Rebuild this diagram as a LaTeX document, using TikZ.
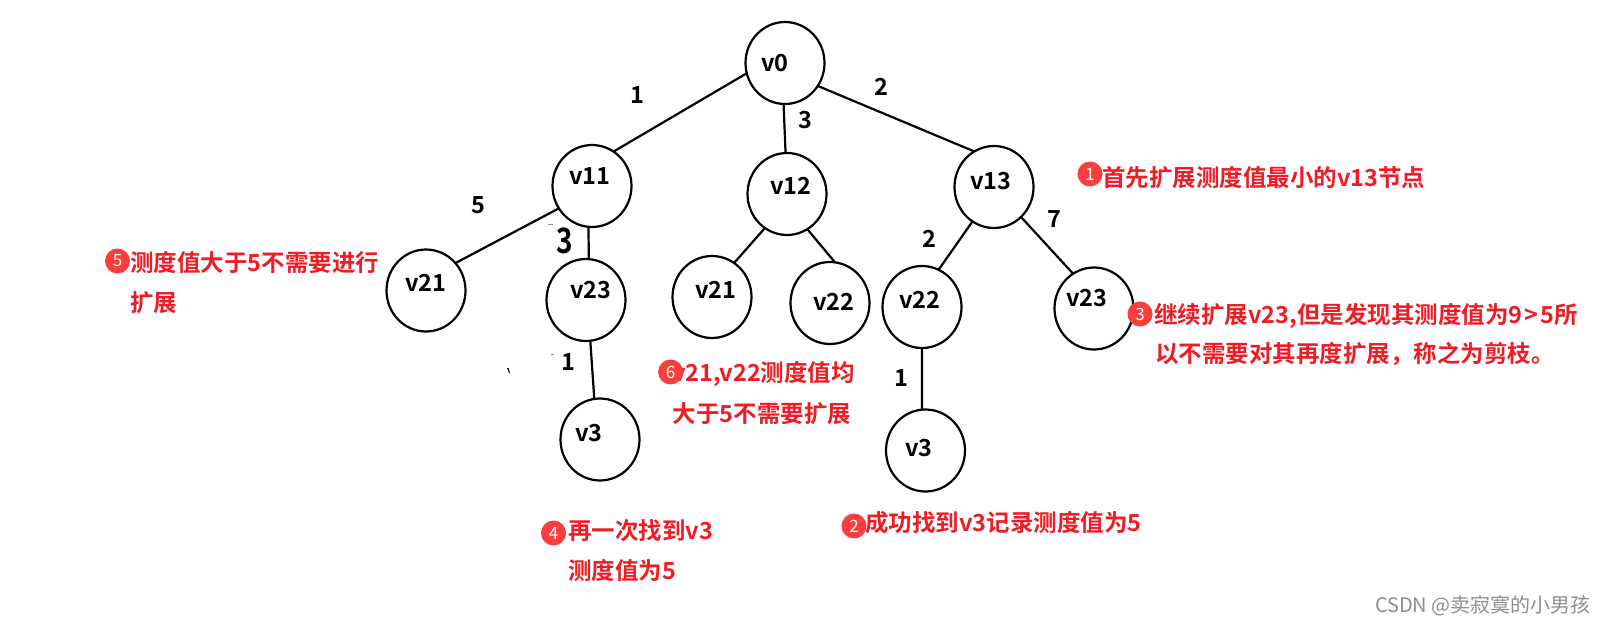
\documentclass[tikz,border=0pt]{standalone}
\usepackage{fontspec}
\setmainfont{Noto Sans CJK SC}[BoldFont={* Bold}]
\newfontfamily\cjkbold{Noto Sans CJK SC Bold}
\usetikzlibrary{shapes.geometric}
\definecolor{notered}{HTML}{EE1C25}
\definecolor{badgered}{HTML}{F93E3E}
\definecolor{markgray}{HTML}{8E8E8E}
\tikzset{
  vert/.style={draw=black,line width=2.2pt,ellipse,inner sep=0pt,outer sep=0pt,minimum width=79pt,minimum height=82pt},
  vname/.style={font=\cjkbold\fontsize{23.5}{23.5}\selectfont,text=black,inner sep=0pt},
  weight/.style={font=\cjkbold\fontsize{23.5}{23.5}\selectfont,text=black,inner sep=0pt},
  bigweight/.style={font=\cjkbold\fontsize{35}{35}\selectfont,text=black,inner sep=0pt,xscale=0.8},
  edge/.style={draw=black,line width=2.2pt},
  note/.style={font=\cjkbold\fontsize{23.5}{23.5}\selectfont,text=notered,inner sep=0pt,anchor=west,text height=20pt,text depth=4pt},
  badge/.style={circle,fill=badgered,inner sep=0pt,minimum size=25pt,text=white,font=\fontsize{17}{17}\selectfont},
  speck/.style={fill=#1,draw=none}
}
\begin{document}
\begin{tikzpicture}[x=1pt,y=-1pt]
\useasboundingbox[fill=white] (0,0) rectangle (1604,624);
% vertices
\node[vert] (n0)  at (785,63)    {};
\node[vert] (n11) at (592,186)   {};
\node[vert] (n12) at (787,194)   {};
\node[vert] (n13) at (994,187)   {};
\node[vert] (a21) at (426,290.5) {};
\node[vert] (a23) at (586,300)   {};
\node[vert] (a3)  at (600,439.5) {};
\node[vert] (b21) at (712,297)   {};
\node[vert] (b22) at (830,303)   {};
\node[vert] (c22) at (922,307)   {};
\node[vert] (c23) at (1094,308.5){};
\node[vert] (c3)  at (925.5,450.5){};
% connectors
\draw[edge] (n0.195) -- (n11.58);
\draw[edge] (n0.-92) -- (n12.92);
\draw[edge] (n0.-35) -- (n13.119);
\draw[edge] (n11.214) -- (a21.43);
\draw[edge] (n11.-95) -- (a23.86);
\draw[edge] (a23.-84) -- (a3.98);
\draw[edge] (n12.237) -- (b21.57);
\draw[edge] (n12.-60) -- (b22.83);
\draw[edge] (n13.238) -- (c22.66);
\draw[edge] (n13.-48) -- (c23.121);
\draw[edge] (c22.-90) -- (c3.95);
% vertex names
\node[vname] (tn0)  at (775,63)  {v0};
\node[vname] (tn11) at (590,176) {v11};
\node[vname] (tn12) at (791,186) {v12};
\node[vname] (tn13) at (991,181) {v13};
\node[vname] (ta21) at (426,283) {v21};
\node[vname] (ta23) at (591,290) {v23};
\node[vname] (ta3)  at (589,433) {v3};
\node[vname] (tb21) at (716,290) {v21};
\node[vname] (tb22) at (834,302) {v22};
\node[vname] (tc22) at (920,300) {v22};
\node[vname] (tc23) at (1087,298){v23};
\node[vname] (tc3)  at (919,448) {v3};
% weights
\node[weight] (w1) at (637,95)  {1};
\node[weight] (w2) at (805,120) {3};
\node[weight] (w3) at (881,87)  {2};
\node[weight] (w4) at (478,205) {5};
\node[bigweight] (w5) at (565,241) {3};
\node[weight] (w6) at (568,362) {1};
\node[weight] (w7) at (929,239) {2};
\node[weight] (w8) at (1054,219){7};
\node[weight] (w9) at (901,378) {1};
% specks
\fill[speck=black] (507,368) -- (508.5,368) -- (510,373) -- (509,373) -- cycle;
\fill[speck=markgray] (548,224) rectangle (553,225);
\fill[speck=markgray] (551,354) rectangle (554,355);
% notes
\node[note] (t1) at (1102,178) {首先扩展测度值最小的v13节点};
\node[note] (t3a) at (1154,315) {继续扩展v23,但是发现其测度值为9\kern2pt>\kern2pt5所};
\node[note] (t3b) at (1155,354) {以不需要对其再度扩展，称之为剪枝。};
\node[note] (t5a) at (130,263) {测度值大于5不需要进行};
\node[note] (t5b) at (130,303) {扩展};
\node[note] (t6a) at (672,373) {v21,v22测度值均};
\node[note] (t6b) at (672.5,414) {大于5不需要扩展};
\node[note] (t2) at (865,523) {成功找到v3记录测度值为5};
\node[note] (t4a) at (568,531) {再一次找到v3};
\node[note] (t4b) at (568,571) {测度值为5};
% badges
\node[badge] (b1) at (1090,174) {1};
\node[badge] (b2) at (854,526) {2};
\node[badge] (b3) at (1140,314) {3};
\node[badge] (b4) at (553.5,533) {4};
\node[badge] (b5) at (117.5,261) {5};
\node[badge] (b6) at (670.6,372) {6};
% watermark
\node[anchor=east,inner sep=0pt,text=markgray,font=\fontsize{20}{20}\selectfont] (wm) at (1591,606) {CSDN @卖寂寞的小男孩};
\end{tikzpicture}
\end{document}
